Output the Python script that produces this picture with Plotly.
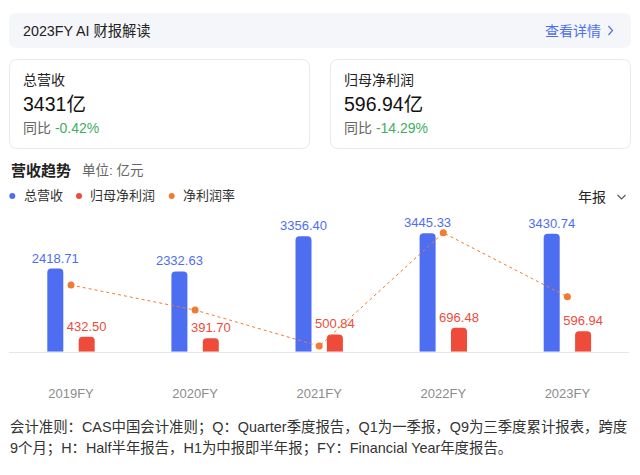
import plotly.graph_objects as go

# page body adds an 8px margin, so the figure is drawn offset by 8px
OFF = 8
W, H = 624, 459

# ---- data ----
categories = ["2019FY", "2020FY", "2021FY", "2022FY", "2023FY"]
revenue = [2418.71, 2332.63, 3356.40, 3445.33, 3430.74]
net_profit = [432.50, 391.70, 500.84, 696.48, 596.94]
net_margin = [17.77, 16.60, 14.92, 20.21, 17.22]

BLUE = "#4E6EF2"
RED = "#EE4B3B"
ORANGE = "#F07B32"
GREEN = "#3FAE5F"
FONT = "Arial, 'Liberation Sans', 'Noto Sans CJK SC', sans-serif"


def px(x):
    return (x - OFF) / W


def py(y):
    return 1 - (y - OFF) / H


fig = go.Figure()

fig.add_bar(
    x=categories, y=revenue, width=0.129, offset=-0.191,
    marker=dict(color=BLUE, cornerradius=4, line=dict(width=0)),
    text=[f"{v:.2f}" for v in revenue], textposition="outside",
    constraintext="none",
    textfont=dict(color=BLUE, size=13, family=FONT), cliponaxis=False,
    name="总营收",
)
fig.add_bar(
    x=categories, y=net_profit, width=0.129, offset=0.062,
    marker=dict(color=RED, cornerradius=4, line=dict(width=0)),
    text=[f"{v:.2f}" for v in net_profit], textposition="outside",
    constraintext="none",
    textfont=dict(color=RED, size=13, family=FONT), cliponaxis=False,
    name="归母净利润",
)
fig.add_scatter(
    x=categories, y=net_margin, yaxis="y2", mode="lines+markers",
    line=dict(color=ORANGE, width=1, dash="dot"),
    marker=dict(size=7, color=ORANGE), cliponaxis=False,
    name="净利润率",
)


def rrect(x0, y0, x1, y1, r, fill, line=None):
    rx, ry = r / W, r / H
    X0, X1 = px(x0), px(x1)
    Yt, Yb = py(y0), py(y1)
    path = (
        f"M {X0+rx},{Yt} L {X1-rx},{Yt} Q {X1},{Yt} {X1},{Yt-ry} "
        f"L {X1},{Yb+ry} Q {X1},{Yb} {X1-rx},{Yb} "
        f"L {X0+rx},{Yb} Q {X0},{Yb} {X0},{Yb+ry} "
        f"L {X0},{Yt-ry} Q {X0},{Yt} {X0+rx},{Yt} Z"
    )
    fig.add_shape(type="path", path=path, xref="paper", yref="paper",
                  fillcolor=fill,
                  line=dict(color=line or fill, width=1 if line else 0),
                  layer="below")


def txt(x, y, s, size, color, xanchor="left"):
    fig.add_annotation(x=px(x), y=py(y), xref="paper", yref="paper",
                       text=s, showarrow=False, xanchor=xanchor,
                       yanchor="middle", borderpad=0,
                       font=dict(size=size, color=color, family=FONT))


def poly(points, color, width=1.2):
    d = "M " + " L ".join(f"{px(a)},{py(b)}" for a, b in points)
    fig.add_shape(type="path", path=d, xref="paper", yref="paper",
                  line=dict(color=color, width=width))


def dot(x, y, r, color):
    fig.add_shape(type="circle", xref="paper", yref="paper",
                  x0=px(x - r), x1=px(x + r), y0=py(y + r), y1=py(y - r),
                  fillcolor=color, line=dict(width=0))


# header bar
rrect(9, 13, 631, 48, 8, "#F5F6F9")
txt(22, 30.5, "2023FY AI 财报解读", 14.3, "#222222")
txt(602, 30.5, "查看详情", 14, BLUE, xanchor="right")
poly([(608.5, 26), (612.5, 30.5), (608.5, 35)], BLUE, 1.2)

# cards
rrect(9.5, 59.5, 309.5, 148.5, 8, "#FFFFFF", "#E9E9E9")
rrect(330.5, 59.5, 630.5, 148.5, 8, "#FFFFFF", "#E9E9E9")
txt(22, 80, "总营收", 14, "#222222")
txt(21.5, 104, "3431亿", 19.5, "#111111")
txt(22, 128, f"同比 <span style='color:{GREEN}'>-0.42%</span>", 14, "#666666")
txt(343, 80, "归母净利润", 14, "#222222")
txt(342.5, 104, "596.94亿", 19.5, "#111111")
txt(343, 128, f"同比 <span style='color:{GREEN}'>-14.29%</span>", 14, "#666666")

# section title
txt(10, 170, "<b>营收趋势</b>", 15, "#222222")
txt(81, 170, "单位: 亿元", 13.5, "#666666")

# legend
dot(12.3, 196, 3, BLUE)
txt(22.5, 196, "总营收", 13, "#333333")
dot(79, 196, 3, RED)
txt(89, 196, "归母净利润", 13, "#333333")
dot(171.7, 196, 3, ORANGE)
txt(181.5, 196, "净利润率", 13, "#333333")
txt(577, 197, "年报", 14, "#222222")
poly([(617.5, 195), (621.5, 199), (625.5, 195)], "#555555", 1.1)

# footnote
txt(9, 427, "会计准则：CAS中国会计准则；Q：Quarter季度报告，Q1为一季报，Q9为三季度累计报表，跨度", 14.4, "#333333")
txt(9, 448, "9个月；H：Half半年报告，H1为中报即半年报；FY：Financial Year年度报告。", 14.4, "#333333")

fig.update_layout(
    width=W, height=H, margin=dict(l=0, r=0, t=0, b=0),
    paper_bgcolor="white", plot_bgcolor="rgba(0,0,0,0)",
    barmode="overlay", showlegend=False,
    font=dict(family=FONT),
    xaxis=dict(domain=[px(8.95), px(629.45)], range=[-0.5, 4.5],
               type="category", showgrid=False, zeroline=False,
               showline=True, linecolor="#E6E6E6", linewidth=1, ticks="",
               tickfont=dict(size=13, color="#8C8C8C", family=FONT),
               ticklabelstandoff=30, fixedrange=True),
    yaxis=dict(domain=[py(351.7), py(200)], range=[0, 4410], visible=False,
               fixedrange=True),
    yaxis2=dict(domain=[py(351.7), py(200)], overlaying="y",
                range=[14.654, 21.743], visible=False, fixedrange=True),
)

fig.write_html("out.html")
